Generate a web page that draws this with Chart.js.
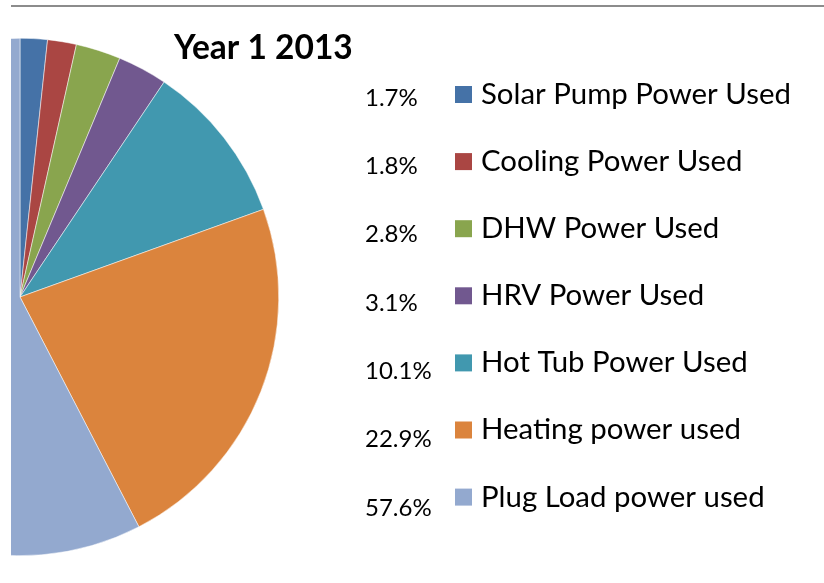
<!DOCTYPE html>
<html>
<head>
<meta charset="utf-8">
<script src="https://cdn.jsdelivr.net/npm/chart.js@4.4.0/dist/chart.umd.min.js"></script>
<style>
  html, body { margin: 0; padding: 0; background: #fff; }
  #wrap { position: absolute; left: 11px; top: 0; width: 813px; height: 583px; overflow: hidden; }
  #pieChart { position: absolute; left: -261px; top: 0; }
</style>
</head>
<body>
<div id="wrap"><canvas id="pieChart" width="1100" height="583"></canvas></div>
<script>
// Dados do gráfico
const chartTitle = 'Year 1 2013';
const categories = [
    'Solar Pump Power Used',
    'Cooling Power Used',
    'DHW Power Used',
    'HRV Power Used',
    'Hot Tub Power Used',
    'Heating power used',
    'Plug Load power used'
];
const shares = [1.7, 1.8, 2.8, 3.1, 10.1, 22.9, 57.6];
const shareLabels = ['1.7%', '1.8%', '2.8%', '3.1%', '10.1%', '22.9%', '57.6%'];
const sliceColors = ['#4572A7', '#AA4643', '#89A54E', '#71588F', '#4198AF', '#DB843D', '#93A9CF'];

// deslocamento do canvas em relação à página
const OFF = 250;

// Legenda e título desenhados à mão (porcentagens ficam à esquerda dos quadrados)
const legendPlugin = {
    id: 'sideLegend',
    afterDraw(chart) {
        const ctx = chart.ctx;
        ctx.save();
        ctx.translate(OFF, 0);

        // linha cinza no topo
        ctx.fillStyle = '#8c8c8c';
        ctx.fillRect(11, 5, 813, 2);

        ctx.fillStyle = '#000';
        ctx.font = 'bold 33.5px Lato';
        ctx.textBaseline = 'alphabetic';
        ctx.textAlign = 'left';
        ctx.fillText(chartTitle, 174, 59);

        ctx.textBaseline = 'middle';
        categories.forEach((name, i) => {
            const yPct = 98 + i * 68.3;
            const yLeg = 94.5 + i * 67.1;
            ctx.fillStyle = '#000';
            ctx.font = '24px Lato';
            ctx.fillText(shareLabels[i], 365, yPct);

            ctx.fillStyle = sliceColors[i];
            ctx.fillRect(455, yLeg - 8.5, 17, 17);

            ctx.fillStyle = '#000';
            ctx.font = '29.4px Lato';
            ctx.fillText(name, 481, yLeg);
        });
        ctx.restore();
    }
};

new Chart(document.getElementById('pieChart'), {
    type: 'pie',
    data: {
        labels: categories,
        datasets: [{
            data: shares,
            backgroundColor: sliceColors,
            borderColor: '#ffffff',
            borderWidth: 0.5
        }]
    },
    options: {
        responsive: false,
        animation: false,
        events: [],
        layout: { padding: { left: 11, right: 571, top: 38, bottom: 27 } },
        plugins: {
            legend: { display: false },
            title: { display: false },
            tooltip: { enabled: false }
        }
    },
    plugins: [legendPlugin]
});
</script>
</body>
</html>
